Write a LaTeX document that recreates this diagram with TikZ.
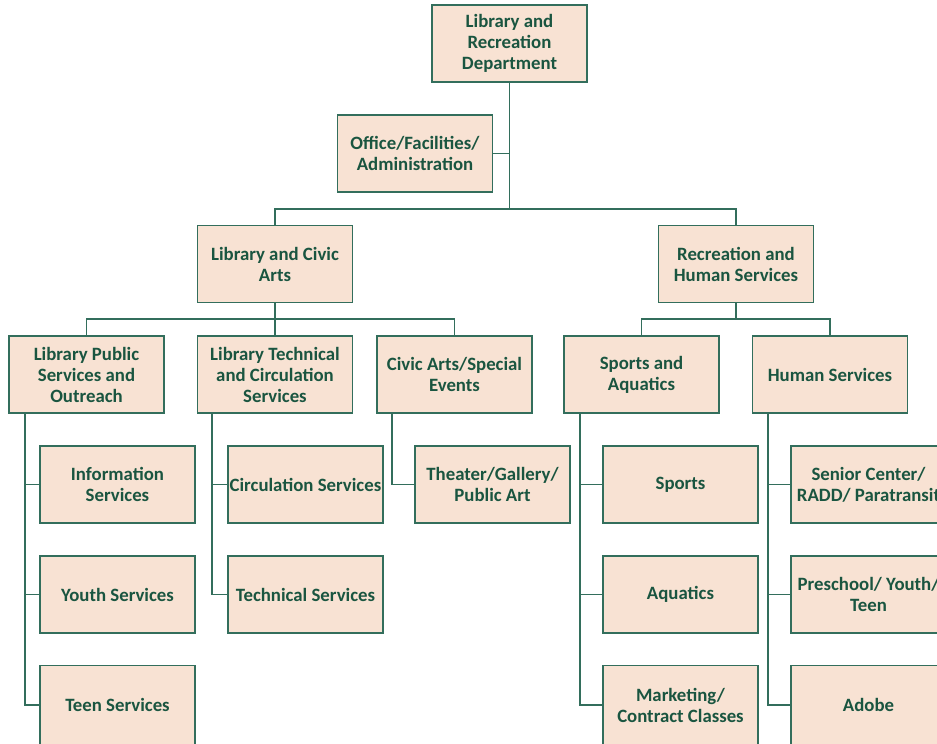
\documentclass[tikz,border=0pt]{standalone}
\usepackage{fontspec}
\setmainfont{Carlito}
\definecolor{boxfill}{HTML}{F8E2D3}
\definecolor{boxline}{HTML}{336E5C}
\definecolor{boxtext}{HTML}{1A5540}
\tikzset{
  orgbox/.style={draw=boxline, fill=boxfill, line width=1.7pt, minimum width=155pt, minimum height=77pt,
    inner sep=0pt, align=center, text=boxtext, font=\bfseries\fontsize{18.8}{21}\selectfont},
  tallbox/.style={orgbox, minimum height=79pt},
  conn/.style={draw=boxline, line width=1.8pt}
}
\begin{document}
\begin{tikzpicture}[x=1pt,y=-1pt]
\useasboundingbox (0,0) rectangle (937,744);
% level 0/1
\node[orgbox] (top) at (509.5,43.5) {Library and\\Recreation\\Department};
\node[orgbox] (off) at (415,153.5) {Office/Facilities/\\Administration};
\node[orgbox] (lca) at (275,264) {Library and Civic\\Arts};
\node[orgbox] (rhs) at (736,264) {Recreation and\\Human Services};
% level 2
\node[orgbox] (lpso) at (86.5,374.5) {Library Public\\Services and\\Outreach};
\node[orgbox] (ltcs) at (275,374.5) {Library Technical\\and Circulation\\Services};
\node[orgbox] (civ) at (454.5,374.5) {Civic Arts/Special\\Events};
\node[orgbox] (spa) at (641.5,374.5) {Sports and\\Aquatics};
\node[orgbox] (hs) at (830,374.5) {Human Services};
% leaves
\node[orgbox] (info) at (117.5,484.5) {Information\\Services};
\node[orgbox] (youth) at (117.5,594.5) {Youth Services};
\node[tallbox] (teen) at (117.5,705) {Teen Services};
\node[orgbox] (circ) at (305.5,484.5) {Circulation Services};
\node[orgbox] (tech) at (305.5,594.5) {Technical Services};
\node[orgbox] (theat) at (492.5,484.5) {Theater/Gallery/\\Public Art};
\node[orgbox] (sports) at (680.5,484.5) {Sports};
\node[orgbox] (aqua) at (680.5,594.5) {Aquatics};
\node[tallbox] (mkt) at (680.5,705) {Marketing/\\Contract Classes};
\node[orgbox] (senior) at (868.5,484.5) {Senior Center/\\RADD/ Paratransit};
\node[orgbox] (pre) at (868.5,594.5) {Preschool/ Youth/\\Teen};
\node[tallbox] (adobe) at (868.5,705) {Adobe};
% junctions
\coordinate (j1) at (509.5,209);
\coordinate (j2) at (275,319);
\coordinate (j3) at (736,319);
% connectors
\draw[conn] (top.south) -- (j1);
\draw[conn] (off.east) -- (off.east -| top.south);
\draw[conn] (lca.north) |- (j1) -| (rhs.north);
\draw[conn] (lca.south) -- (ltcs.north);
\draw[conn] (lpso.north) |- (j2) -| (civ.north);
\draw[conn] (rhs.south) -- (j3);
\draw[conn] (spa.north) |- (j3) -| (hs.north);
\draw[conn] ([xshift=16.5pt]lpso.south west) |- (info.west)
            ([xshift=16.5pt]lpso.south west) |- (youth.west)
            ([xshift=16.5pt]lpso.south west) |- (teen.west);
\draw[conn] ([xshift=15.5pt]ltcs.south west) |- (circ.west)
            ([xshift=15.5pt]ltcs.south west) |- (tech.west);
\draw[conn] ([xshift=15.5pt]civ.south west) |- (theat.west);
\draw[conn] ([xshift=16.5pt]spa.south west) |- (sports.west)
            ([xshift=16.5pt]spa.south west) |- (aqua.west)
            ([xshift=16.5pt]spa.south west) |- (mkt.west);
\draw[conn] ([xshift=16pt]hs.south west) |- (senior.west)
            ([xshift=16pt]hs.south west) |- (pre.west)
            ([xshift=16pt]hs.south west) |- (adobe.west);
\end{tikzpicture}
\end{document}
